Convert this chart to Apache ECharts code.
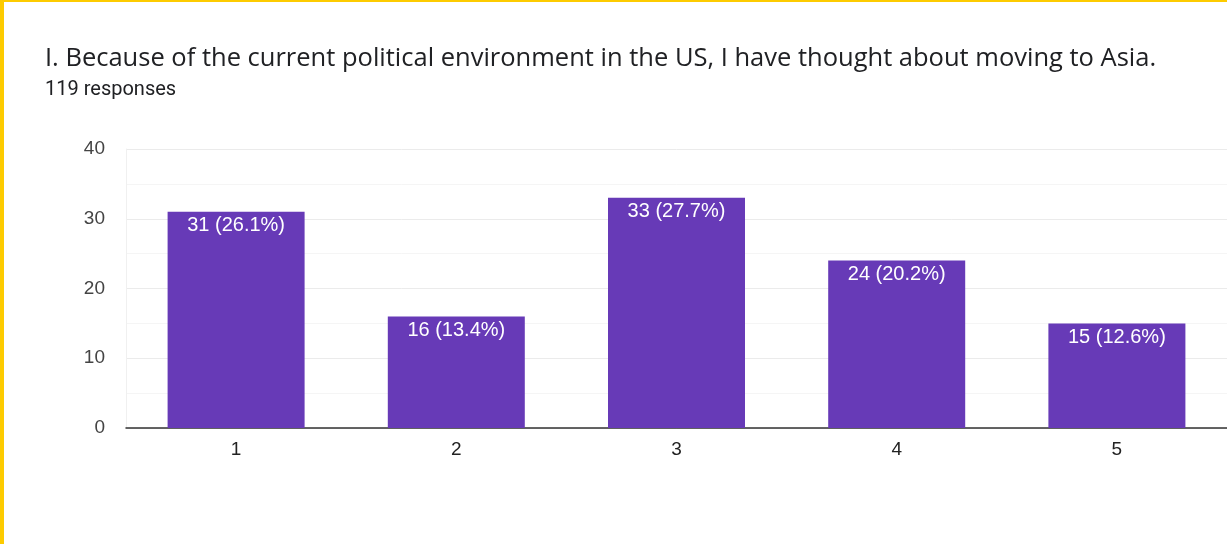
<!DOCTYPE html>
<html>
<head>
<meta charset="utf-8">
<style>
  html, body { margin: 0; padding: 0; background: #fff; }
  #chart { width: 1227px; height: 544px; }
</style>
<script src="https://cdn.jsdelivr.net/npm/echarts@6/dist/echarts.min.js"></script>
</head>
<body>
<div id="chart"></div>
<script>
// Survey answers on a 1–5 scale
const categories = ['1', '2', '3', '4', '5'];
const counts = [31, 16, 33, 24, 15];
const percents = ['26.1%', '13.4%', '27.7%', '20.2%', '12.6%'];
const yTicks = [0, 10, 20, 30, 40];

const titleText = 'I. Because of the current political environment in the US, I have thought about moving to Asia.';
const subtitleText = '119 responses';

const chart = echarts.init(document.getElementById('chart'), null, { renderer: 'canvas' });

chart.setOption({
  backgroundColor: '#ffffff',
  animation: false,
  title: {
    text: titleText,
    subtext: subtitleText,
    left: 45,
    top: 46,
    padding: 0,
    itemGap: 8,
    textStyle: { fontFamily: 'Open Sans', fontSize: 25.5, fontWeight: 'normal', color: '#202124' },
    subtextStyle: { fontFamily: 'Roboto', fontSize: 20, color: '#202124' }
  },
  graphic: [
    { type: 'rect', left: 0, top: 0, shape: { width: 1227, height: 2 }, style: { fill: '#fdcb00' }, z: 100 },
    { type: 'rect', left: 0, top: 0, shape: { width: 4, height: 544 }, style: { fill: '#fdcb00' }, z: 100 }
  ],
  grid: { left: 126, right: 0, top: 149, height: 279, containLabel: false },
  xAxis: {
    type: 'category',
    data: categories,
    axisTick: { show: false },
    axisLine: { lineStyle: { color: '#333', width: 1.5 } },
    axisLabel: { margin: 12, fontFamily: 'Liberation Sans', fontSize: 19, color: '#222' }
  },
  yAxis: {
    type: 'value',
    min: yTicks[0],
    max: yTicks[yTicks.length - 1],
    interval: 10,
    axisLine: { show: true, lineStyle: { color: '#f0f0f0' } },
    axisTick: { show: false },
    axisLabel: { margin: 21, fontFamily: 'Liberation Sans', fontSize: 19, color: '#444' },
    splitLine: { lineStyle: { color: '#ebebeb' } },
    minorTick: { show: false, splitNumber: 2 },
    minorSplitLine: { show: true, lineStyle: { color: '#f5f5f5' } }
  },
  series: [{
    type: 'bar',
    data: counts,
    barWidth: 137,
    itemStyle: { color: '#673ab7' },
    label: {
      show: true,
      position: 'insideTop',
      distance: 4,
      fontFamily: 'Liberation Sans',
      fontSize: 20,
      color: '#ffffff',
      formatter: p => counts[p.dataIndex] + ' (' + percents[p.dataIndex] + ')'
    }
  }]
});
</script>
</body>
</html>
